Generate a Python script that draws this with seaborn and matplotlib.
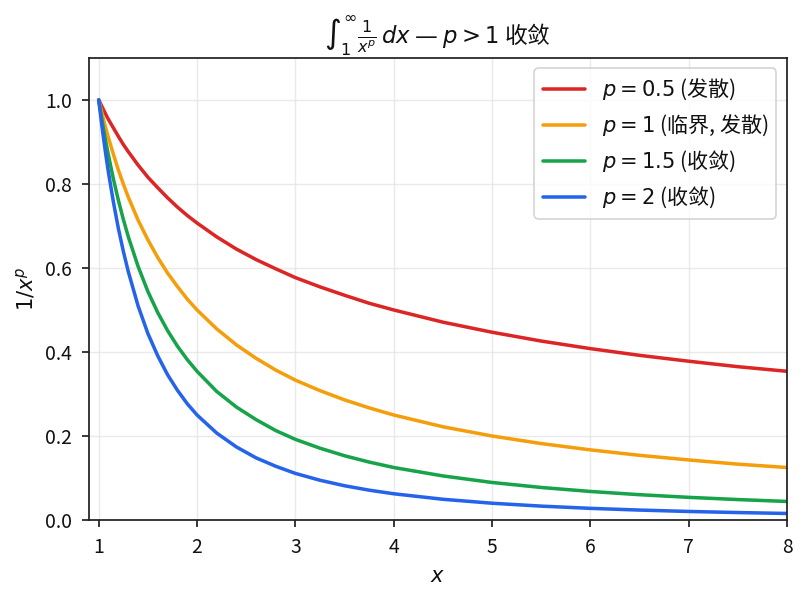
import matplotlib
matplotlib.use("Agg")
import matplotlib.pyplot as plt
import seaborn as sns
import pandas as pd

x_vals = [1, 1.025, 1.05, 1.075, 1.1, 1.15, 1.2, 1.25, 1.3, 1.4, 1.5, 1.6, 1.7, 1.8, 1.9,
          2, 2.2, 2.4, 2.6, 2.8, 3, 3.25, 3.5, 3.75, 4, 4.5, 5, 5.5, 6, 6.5, 7, 7.5, 8]
y_p05 = [1.000, 0.988, 0.976, 0.964, 0.953, 0.933, 0.913, 0.894, 0.877, 0.845, 0.816,
         0.791, 0.767, 0.745, 0.725, 0.707, 0.674, 0.645, 0.620, 0.598, 0.577, 0.555,
         0.535, 0.516, 0.500, 0.471, 0.447, 0.426, 0.408, 0.392, 0.378, 0.365, 0.354]
y_p1 = [1.000, 0.976, 0.952, 0.930, 0.909, 0.870, 0.833, 0.800, 0.769, 0.714, 0.667,
        0.625, 0.588, 0.556, 0.526, 0.500, 0.455, 0.417, 0.385, 0.357, 0.333, 0.308,
        0.286, 0.267, 0.250, 0.222, 0.200, 0.182, 0.167, 0.154, 0.143, 0.133, 0.125]
y_p15 = [1.000, 0.964, 0.929, 0.897, 0.867, 0.811, 0.761, 0.716, 0.675, 0.604, 0.544,
         0.494, 0.451, 0.414, 0.382, 0.354, 0.306, 0.269, 0.239, 0.213, 0.192, 0.171,
         0.153, 0.138, 0.125, 0.105, 0.0894, 0.0775, 0.0680, 0.0603, 0.0540, 0.0487, 0.0442]
y_p2 = [1.000, 0.952, 0.907, 0.865, 0.826, 0.756, 0.694, 0.640, 0.592, 0.510, 0.444,
        0.391, 0.346, 0.309, 0.277, 0.250, 0.207, 0.174, 0.148, 0.128, 0.111, 0.0947,
        0.0816, 0.0711, 0.0625, 0.0494, 0.0400, 0.0331, 0.0278, 0.0237, 0.0204, 0.0178, 0.0156]
labels = ["$p = 0.5$ (发散)", "$p = 1$ (临界, 发散)", "$p = 1.5$ (收敛)", "$p = 2$ (收敛)"]
colors = ["#dc2626", "#f59e0b", "#16a34a", "#2563eb"]

rows = []
for lab, ys in zip(labels, [y_p05, y_p1, y_p15, y_p2]):
    for xv, yv in zip(x_vals, ys):
        rows.append({"x": xv, "y": yv, "series": lab})
df = pd.DataFrame(rows)

sns.set_style("ticks")
plt.rcParams['font.family'] = ['Noto Sans CJK SC', 'DejaVu Sans']
plt.rcParams['mathtext.fontset'] = 'dejavusans'
plt.rcParams['axes.unicode_minus'] = False
plt.rcParams['text.color'] = '#111111'
plt.rcParams['axes.labelcolor'] = '#111111'
plt.rcParams['xtick.color'] = '#222222'
plt.rcParams['ytick.color'] = '#222222'

DPI = 126.25
fig = plt.figure(figsize=(808 / DPI, 603 / DPI), dpi=DPI)
ax = fig.add_axes([0.110, 0.1376, 0.864, 0.7664])
sns.lineplot(data=df, x="x", y="y", hue="series", hue_order=labels,
             palette=colors, linewidth=2.0, ax=ax, sort=True)
ax.set_xlim(0.9, 8)
ax.set_ylim(0, 1.1)
ax.set_xticks([1, 2, 3, 4, 5, 6, 7, 8])
ax.set_yticks([0.0, 0.2, 0.4, 0.6, 0.8, 1.0])
ax.set_yticklabels(["0.0", "0.2", "0.4", "0.6", "0.8", "1.0"])
ax.tick_params(labelsize=11, labelcolor="#111111", color="#222222", width=1.0,
               length=3.8, pad=6)
ax.grid(True, color="#dddddd", alpha=0.6, linewidth=0.8)
for s in ax.spines.values():
    s.set_visible(True)
    s.set_color("#222222")
    s.set_linewidth(1.0)
ax.set_xlabel("$x$", fontsize=12)
ax.set_ylabel("$1/x^p$", fontsize=12)
ax.set_title(r"$\int_1^\infty \frac{1}{x^p}\,dx$ — $p > 1$ 收敛", fontsize=13)
leg = ax.legend(loc="upper right", fontsize=12, frameon=True)
leg.set_title(None)
fig.savefig("out.png", dpi=DPI)
